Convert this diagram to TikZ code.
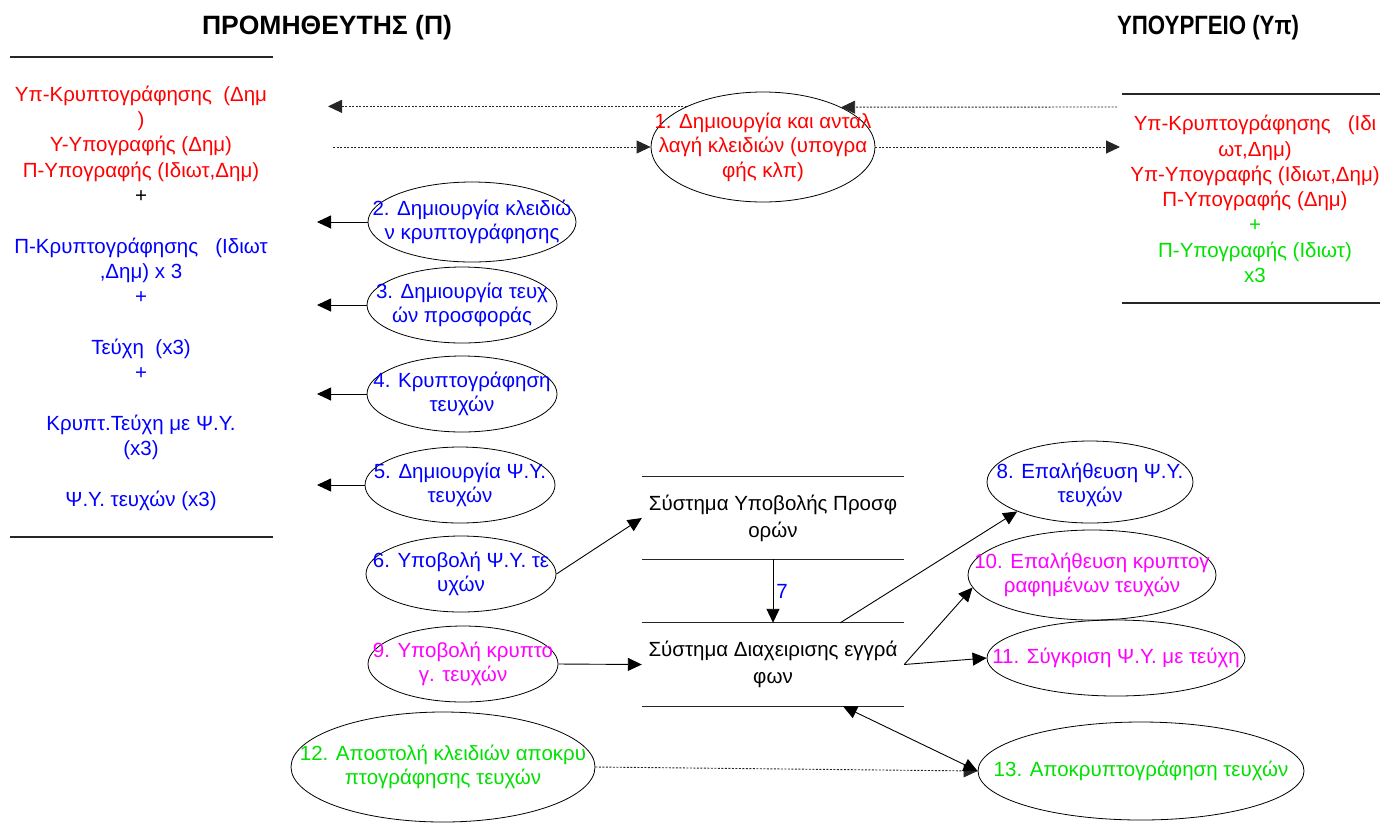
\documentclass[tikz,border=0pt]{standalone}
\usepackage{fontspec}
\setmainfont{Liberation Sans}
\usetikzlibrary{shapes.geometric,arrows.meta}
\definecolor{tred}{RGB}{255,0,0}
\definecolor{tblue}{RGB}{0,0,255}
\definecolor{tmag}{RGB}{255,0,255}
\definecolor{tgreen}{RGB}{0,225,0}
\begin{document}
\begin{tikzpicture}[x=1pt,y=-1pt,
  every node/.style={font=\fontsize{20.5}{25}\selectfont},
  ell/.style={ellipse,draw,line width=0.8pt,inner sep=0pt},
  txt/.style={align=center,inner sep=0pt,font=\fontsize{20.5}{24.5}\selectfont},
  block/.style={align=center,inner sep=0pt,font=\fontsize{20.5}{25.3}\selectfont},
  title/.style={font=\fontsize{26.5}{28}\selectfont\bfseries,inner sep=0pt},
  sysbox/.style={inner sep=0pt,align=center,font=\fontsize{20.5}{27}\selectfont},
  arr/.style={-{Triangle[length=14pt,width=13pt]},line width=0.9pt},
  darr/.style={arr,dash pattern=on 2pt off 1.5pt,draw=black!85},
  rule/.style={line width=1.2pt,draw=black!85}]
\useasboundingbox (0,0) rectangle (1383,823);

% titles
\node[title] (tp) at (327,28) {ΠΡΟΜΗΘΕΥΤΗΣ (Π)};
\node[title] (ty) at (1208,28) {\scalebox{0.84}[1]{ΥΠΟΥΡΓΕΙΟ (Υπ)}};

% left block
\draw[rule] (10,57) -- (273,57);
\draw[rule] (10,537) -- (273,537);
\node[block] (prov) at (141,298) {%
\textcolor{tred}{Υπ-Κρυπτογράφησης~~(Δημ}\\
\textcolor{tred}{)}\\
\textcolor{tred}{Υ-Υπογραφής (Δημ)}\\
\textcolor{tred}{Π-Υπογραφής (Ιδιωτ,Δημ)}\\
+\\
\mbox{}\\
\textcolor{tblue}{Π-Κρυπτογράφησης~~~(Ιδιωτ}\\
\textcolor{tblue}{,Δημ) x 3}\\
\textcolor{tblue}{+}\\
\mbox{}\\
\textcolor{tblue}{Τεύχη~~(x3)}\\
\textcolor{tblue}{+}\\
\mbox{}\\
\textcolor{tblue}{Κρυπτ.Τεύχη με Ψ.Υ.}\\
\textcolor{tblue}{(x3)}\\
\mbox{}\\
\textcolor{tblue}{Ψ.Υ. τευχών (x3)}};

% right block
\draw[rule] (1122,94) -- (1380,94);
\draw[rule] (1122,303) -- (1380,303);
\node[block] (min) at (1255,199) {%
\textcolor{tred}{Υπ-Κρυπτογράφησης~~~(Ιδι}\\
\textcolor{tred}{ωτ,Δημ)}\\
\textcolor{tred}{Υπ-Υπογραφής (Ιδιωτ,Δημ)}\\
\textcolor{tred}{Π-Υπογραφής (Δημ)}\\
\textcolor{tgreen}{+}\\
\textcolor{tgreen}{Π-Υπογραφής (Ιδιωτ)}\\
\textcolor{tgreen}{x3}};

% ellipses
\node[ell,minimum width=224,minimum height=110] (e1) at (763,147) {};
\node[txt,text=tred] (e1t) at (e1) {1. Δημιουργία και ανταλ\\λαγή κλειδιών (υπογρα\\φής κλπ)};
\node[ell,minimum width=208,minimum height=80] (e2) at (472,222) {};
\node[txt,text=tblue] (e2t) at (e2) {2. Δημιουργία κλειδιώ\\ν κρυπτογράφησης};
\node[ell,minimum width=190,minimum height=76] (e3) at (462,305) {};
\node[txt,text=tblue] (e3t) at (e3) {3. Δημιουργία τευχ\\ών προσφοράς};
\node[ell,minimum width=190,minimum height=76] (e4) at (462,394) {};
\node[txt,text=tblue] (e4t) at (e4) {4. Κρυπτογράφηση\\τευχών};
\node[ell,minimum width=190,minimum height=76] (e5) at (460,485) {};
\node[txt,text=tblue] (e5t) at (e5) {5. Δημιουργία Ψ.Υ.\\τευχών};
\node[ell,minimum width=190,minimum height=76] (e6) at (461,574) {};
\node[txt,text=tblue] (e6t) at (e6) {6. Υποβολή Ψ.Υ. τε\\υχών};
\node[ell,minimum width=190,minimum height=76] (e9) at (463,664) {};
\node[txt,text=tmag] (e9t) at (e9) {9. Υποβολή κρυπτο\\γ. τευχών};
\node[ell,minimum width=304,minimum height=110] (e12) at (443,767) {};
\node[txt,text=tgreen] (e12t) at (e12) {12. Αποστολή κλειδιών αποκρυ\\πτογράφησης τευχών};
\node[ell,minimum width=206,minimum height=82] (e8) at (1090,482) {};
\node[txt,text=tblue] (e8t) at (1090,485) {8. Επαλήθευση Ψ.Υ.\\τευχών};
\node[ell,minimum width=248,minimum height=90] (e10) at (1092,575) {};
\node[txt,text=tmag] (e10t) at (e10) {10. Επαλήθευση κρυπτογ\\ραφημένων τευχών};
\node[ell,minimum width=258,minimum height=76] (e11) at (1116,658) {};
\node[txt,text=tmag] (e11t) at (e11) {11. Σύγκριση Ψ.Υ. με τεύχη};
\node[ell,minimum width=326,minimum height=98] (e13) at (1141,771) {};
\node[txt,text=tgreen] (e13t) at (e13) {13. Αποκρυπτογράφηση τευχών};

% system blocks
\node[sysbox,minimum width=262,minimum height=82] (sys1) at (773,518) {Σύστημα Υποβολής Προσφ\\ορών};
\node[sysbox,minimum width=262,minimum height=83] (sys2) at (773,664.5) {Σύστημα Διαχειρισης εγγρά\\φων};
\draw[rule] (sys1.north west) -- (sys1.north east);
\draw[rule] (sys1.south west) -- (sys1.south east);
\draw[rule] (sys2.north west) -- (sys2.north east);
\draw[rule] (sys2.south west) -- (sys2.south east);

% free ends
\coordinate (pl1) at (328,107);
\coordinate (pl2) at (333,147);
\coordinate (pr1) at (1117,107);
\coordinate (pr2) at (1120,147);
\coordinate (s8) at ([xshift=-64pt]sys2.north east);
\coordinate (s13) at ([xshift=70pt]sys2.south);

% connectors
\draw[darr] (e1.152.5) -- (e1.152.5 -| pl1);
\draw[darr] (pr1) -- (e1.27.5);
\draw[darr] (pl2) -- (e1.west);
\draw[darr] (e1.east) -- (pr2);
\foreach \e/\y in {e2/222,e3/305,e4/394,e5/485}{
  \draw[arr] (\e.west) -- (317,\y);
}
\draw[arr] (e6.east) -- (sys1.west);
\draw[arr] (e9.east) -- (sys2.west);
\draw[arr] (sys1.south) -- node[right=3pt,text=tblue,inner sep=0pt]{7} (sys2.north);
\draw[arr] (s8) -- (e8.202);
\draw[arr] (sys2.east) -- (e10.186);
\draw[arr] (sys2.east) -- (e11.west);
\draw[darr] (e12.east) -- (e13.west);
\draw[{Triangle[length=14pt,width=13pt]}-{Triangle[length=14pt,width=13pt]},line width=0.9pt] (s13) -- (e13.west);
\end{tikzpicture}
\end{document}
